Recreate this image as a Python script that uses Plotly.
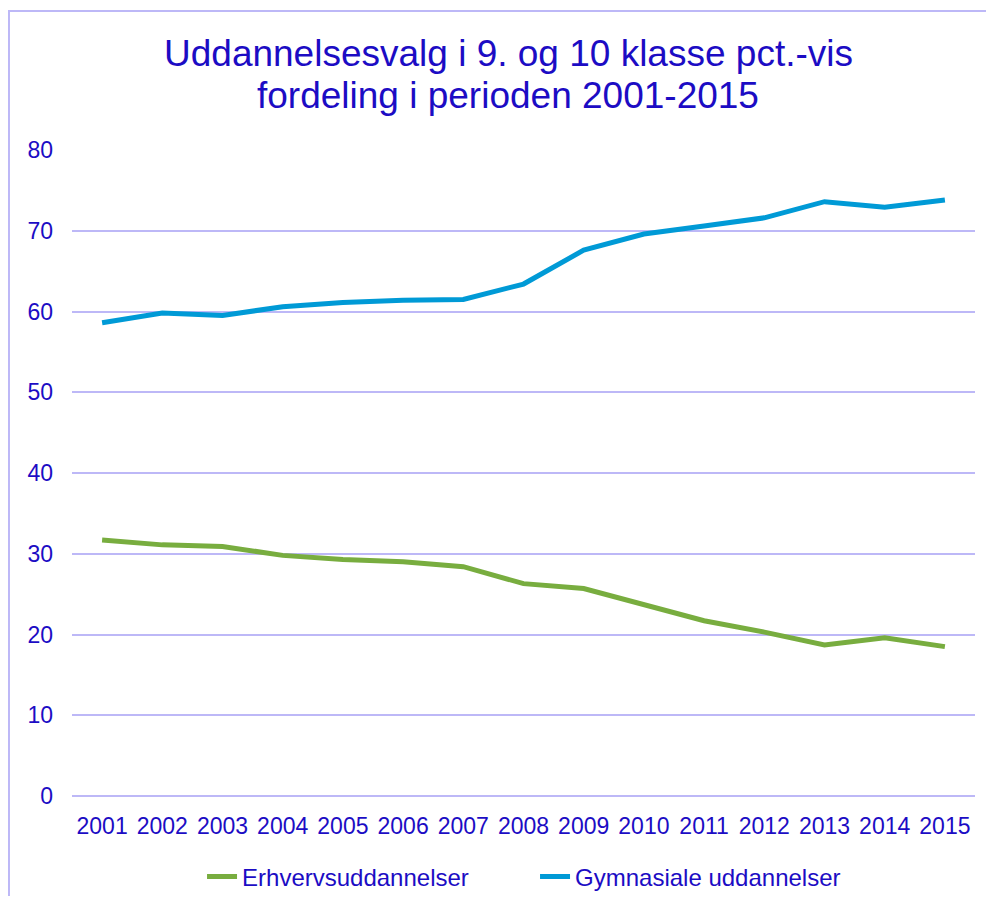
import plotly.graph_objects as go

years = ["2001", "2002", "2003", "2004", "2005", "2006", "2007", "2008",
         "2009", "2010", "2011", "2012", "2013", "2014", "2015"]
erhverv = [31.7, 31.1, 30.9, 29.8, 29.3, 29.0, 28.4, 26.3, 25.7, 23.7, 21.7, 20.3, 18.7, 19.6, 18.5]
gymnasial = [58.6, 59.8, 59.5, 60.6, 61.1, 61.4, 61.5, 63.4, 67.6, 69.6, 70.6, 71.6, 73.6, 72.9, 73.8]
yticks = [0, 10, 20, 30, 40, 50, 60, 70, 80]
title_lines = ["Uddannelsesvalg i 9. og 10 klasse pct.-vis", "fordeling i perioden 2001-2015"]

text_color = "#1C0CC4"
grid_color = "#BDB8F7"
font_family = "Liberation Sans, Arial, sans-serif"

fig = go.Figure()
fig.add_trace(go.Scatter(x=years, y=erhverv, mode="lines", name="Erhvervsuddannelser",
                         line=dict(color="#78AD3F", width=5)))
fig.add_trace(go.Scatter(x=years, y=gymnasial, mode="lines", name="Gymnasiale uddannelser",
                         line=dict(color="#009AD6", width=5)))

annotations = [
    dict(text=title_lines[0], xref="paper", yref="paper", x=0.483, y=1.150,
         xanchor="center", yanchor="middle", showarrow=False,
         font=dict(size=37, color=text_color, family=font_family)),
    dict(text=title_lines[1], xref="paper", yref="paper", x=0.483, y=1.085,
         xanchor="center", yanchor="middle", showarrow=False,
         font=dict(size=37, color=text_color, family=font_family)),
]

fig.update_layout(
    width=978, height=888,
    margin=dict(l=64, r=11, t=142, b=100),
    paper_bgcolor="white", plot_bgcolor="white",
    font=dict(family=font_family, color=text_color, size=23),
    showlegend=True,
    legend=dict(orientation="h", x=0.144, xanchor="left",
                yref="container", y=0.0214, yanchor="middle",
                entrywidth=288, entrywidthmode="pixels",
                font=dict(size=24, color=text_color)),
    annotations=annotations,
    shapes=[dict(type="rect", xref="paper", yref="paper",
                 x0=-0.0698, x1=1.3, y0=-0.5, y1=1.215,
                 line=dict(color=grid_color, width=2), layer="below")],
)
fig.update_xaxes(type="category", range=[-0.5, 14.5], showgrid=False, showline=False, ticks="",
                 automargin=False, ticklabelstandoff=14,
                 tickfont=dict(size=23, color=text_color))
fig.update_yaxes(range=[0, 80], tickvals=yticks, showgrid=True, gridcolor=grid_color,
                 gridwidth=1.5, zeroline=True, zerolinecolor=grid_color, zerolinewidth=1.5,
                 showline=False, ticks="", ticklabelstandoff=18, automargin=False,
                 tickfont=dict(size=23, color=text_color))

fig.write_html("out.html")
